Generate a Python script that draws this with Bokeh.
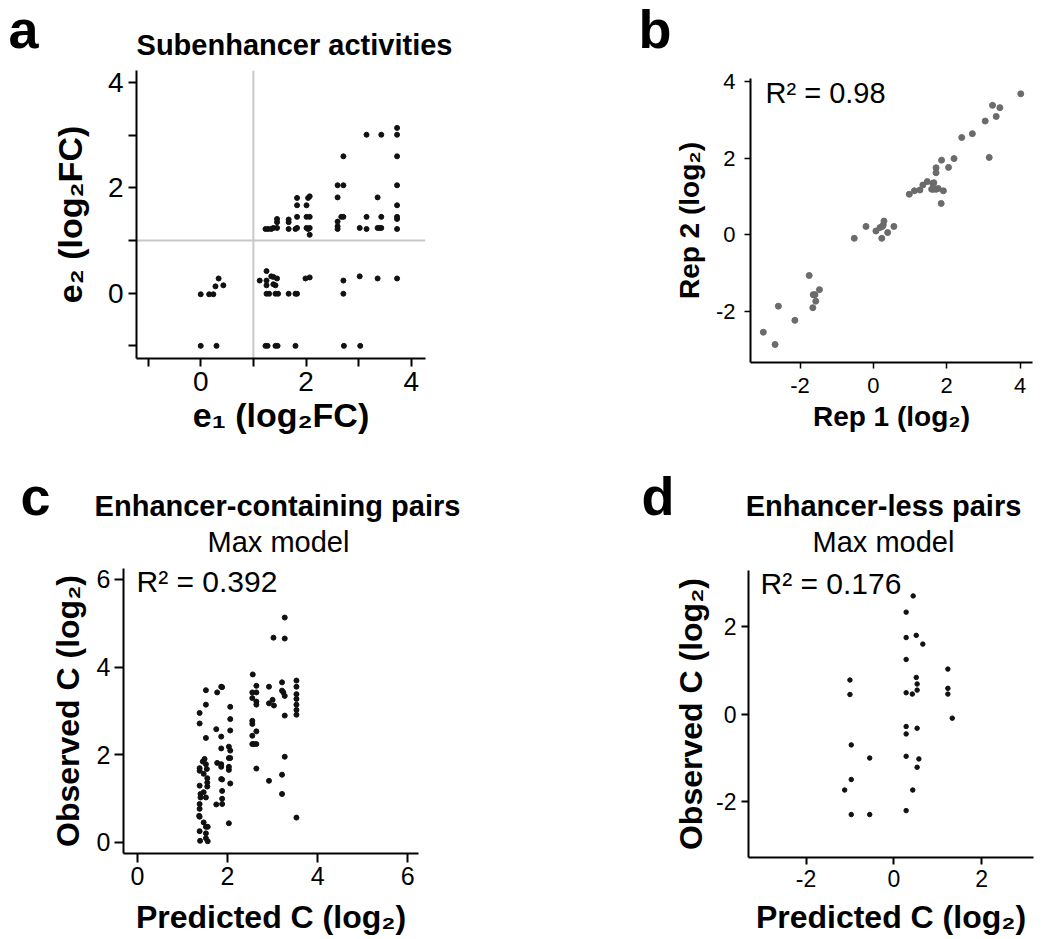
from bokeh.plotting import figure
from bokeh.layouts import column, row
from bokeh.models import Range1d, FixedTicker, Span, Label
from bokeh.core.properties import value
from bokeh.embed import file_html
from bokeh.resources import INLINE

FONT = "Liberation Sans"

# ---------------- data ----------------
# panel a: subenhancer activities (e1, e2 in log2FC)
a_x = [0.00, 0.16, 0.24, 0.28, 0.34, 0.43,
       0.00, 0.30, 1.23, 1.27, 1.42, 1.46, 1.80, 2.72, 3.03,
       1.12, 1.25, 1.25, 1.25, 1.25, 1.30, 1.34, 1.38, 1.38, 1.42, 1.45, 1.42, 1.47,
       1.67, 1.80, 1.83, 1.99, 2.07, 2.71, 2.71, 3.02, 3.36, 3.73,
       1.23, 1.28, 1.34, 1.38, 1.45, 1.45, 1.45,
       1.67, 1.67, 1.67, 1.80, 1.83, 1.83, 1.83, 1.83,
       2.01, 2.04, 2.07, 2.01, 2.07, 2.01, 2.04, 2.07, 2.07,
       2.60, 2.60, 2.60, 2.67, 2.71, 2.60, 2.60, 2.71, 2.71,
       3.02, 3.15, 3.15, 3.15,
       3.36, 3.36, 3.40, 3.43, 3.43, 3.43,
       3.73, 3.73, 3.73, 3.73, 3.73, 3.73, 3.73, 3.73]
a_y = [-0.02, -0.02, -0.02, 0.13, 0.28, 0.15,
       -1.00, -1.00, -1.00, -1.00, -1.00, -1.00, -1.00, -1.00, -1.00,
       0.24, 0.42, 0.24, 0.15, -0.01, -0.01, 0.32, 0.31, 0.17, 0.15, 0.28, -0.01, -0.01,
       -0.01, -0.01, -0.01, 0.28, 0.30, 0.24, -0.01, 0.32, 0.28, 0.28,
       1.22, 1.22, 1.22, 1.24, 1.24, 1.35, 1.41,
       1.22, 1.35, 1.40, 1.22, 1.24, 1.45, 1.67, 1.81,
       1.24, 1.22, 1.24, 1.45, 1.45, 1.67, 1.81, 1.84, 1.11,
       1.22, 1.27, 1.36, 1.45, 1.45, 1.82, 2.05, 2.05, 2.60,
       1.24, 1.22, 1.45, 3.01,
       1.82, 1.24, 1.24, 1.24, 1.45, 3.01,
       3.14, 3.01, 2.60, 2.05, 1.67, 1.45, 1.41, 1.22]

# panel b: replicate agreement
b_x = [-3.00, -2.68, -2.59, -2.14, -1.75, -1.65, -1.64, -1.59, -1.57, -1.47,
       -0.52, -0.20, 0.07, 0.18, 0.23, 0.25, 0.27, 0.29, 0.39, 0.56,
       0.98, 1.12, 1.27, 1.35, 1.47, 1.59, 1.62, 1.65, 1.64, 1.71,
       1.71, 1.71, 1.77, 1.85, 1.86, 1.91, 2.05, 2.20, 2.41, 2.70,
       3.05, 3.16, 3.25, 3.35, 3.45, 4.02]
b_y = [-2.54, -2.86, -1.86, -2.23, -1.06, -1.90, -1.56, -1.56, -1.73, -1.43,
       -0.09, 0.22, 0.10, 0.19, -0.09, 0.22, 0.26, 0.36, 0.06, 0.22,
       1.06, 1.15, 1.17, 1.30, 1.39, 1.19, 1.34, 1.36, 1.19, 1.75,
       1.62, 1.19, 1.21, 0.82, 1.95, 1.15, 1.76, 1.99, 2.54, 2.64,
       2.97, 2.02, 3.38, 3.09, 3.32, 3.68]

# panel c: enhancer-containing pairs, max model
c_x = [1.38, 1.38, 1.52, 1.52, 1.52, 1.49, 1.45, 1.38, 1.38, 1.52, 1.54, 1.47, 1.55, 1.55, 1.55, 1.38,
       1.40, 1.40, 1.47, 1.52, 1.38, 1.38, 1.37, 1.38, 1.47, 1.52, 1.56, 1.38, 1.52, 1.39, 1.52, 1.56,
       1.77, 1.86, 1.88, 1.75, 1.86, 1.86, 1.86, 1.86, 1.77, 1.86, 1.88, 1.88, 1.88, 1.88, 1.75,
       2.06, 2.06, 2.06, 2.03, 2.06, 2.06, 2.03, 2.03, 2.03, 2.06, 2.03,
       2.56, 2.55, 2.64, 2.55, 2.64, 2.64, 2.64, 2.55, 2.55, 2.64, 2.55, 2.55, 2.64, 2.58, 2.64,
       2.92, 2.92, 3.00, 3.03, 2.92, 3.02,
       3.27, 3.27, 3.21, 3.21, 3.24, 3.27, 3.27, 3.27, 3.21, 3.21,
       3.53, 3.53, 3.53, 3.53, 3.53, 3.53, 3.53, 3.53]
c_y = [2.95, 2.71, 3.47, 3.14, 2.38, 1.90, 1.84, 1.69, 1.63, 1.78, 1.67, 1.56, 1.46, 1.36, 1.27, 1.29,
       1.10, 1.02, 1.14, 1.02, 0.87, 0.76, 0.60, 0.58, 0.45, 0.35, 0.35, 0.25, 0.20, 0.03, 0.09, 0.02,
       3.42, 3.55, 3.54, 2.58, 2.41, 2.14, 1.78, 1.72, 1.81, 1.44, 1.43, 1.17, 0.99, 0.87, 0.86,
       3.09, 2.81, 2.55, 2.18, 2.09, 1.92, 1.92, 1.72, 1.65, 1.34, 0.43,
       3.83, 3.42, 3.42, 3.29, 3.57, 3.21, 3.14, 2.77, 2.70, 2.53, 2.43, 2.24, 2.24, 2.24, 1.68,
       3.55, 3.17, 3.25, 3.12, 1.40, 4.67,
       5.13, 4.65, 3.65, 3.46, 3.42, 3.34, 2.89, 1.95, 1.54, 1.10,
       3.69, 3.55, 3.38, 3.27, 3.14, 3.02, 2.91, 0.56]

# panel d: enhancer-less pairs, max model
d_x = [-1.00, -1.00, -0.97, -0.97, -1.12, -0.97, -0.55, -0.55,
       0.44, 0.28, 0.28, 0.51, 0.66, 0.28, 0.51, 0.53, 0.53, 0.28, 0.42,
       0.28, 0.28, 0.53, 0.28, 0.57, 0.53, 0.43, 0.28,
       1.23, 1.23, 1.23, 1.33]
d_y = [0.78, 0.45, -0.70, -1.49, -1.73, -2.29, -1.00, -2.29,
       2.70, 2.33, 1.75, 1.80, 1.60, 1.25, 0.84, 0.69, 0.55, 0.49, 0.46,
       -0.28, -0.45, -0.32, -0.96, -1.02, -1.21, -1.73, -2.20,
       1.03, 0.59, 0.46, -0.09]

a_ticks = [-1, 0, 1, 2, 3, 4]
a_tick_labels = {-1: "", 0: "0", 1: "", 2: "2", 3: "", 4: "4"}
b_ticks = [-2, 0, 2, 4]
b_tick_labels = {-2: "-2", 0: "0", 2: "2", 4: "4"}
c_ticks = [0, 2, 4, 6]
d_ticks = [-2, 0, 2]
d_tick_labels = {-2: "-2", 0: "0", 2: "2"}

panel_letters = ["a", "b", "c", "d"]
panel_titles = ["Subenhancer activities", "", "Enhancer-containing pairs", "Enhancer-less pairs"]
panel_subtitles = ["", "", "Max model", "Max model"]
r2_texts = ["", "R² = 0.98", "R² = 0.392", "R² = 0.176"]

W = 1048
ROW1 = 458          # height of the top row (a, b)
BASE_SHIFT = 0.36   # empirical correction of the rendered text baseline (in em)


# ---------------- helpers ----------------
def make_header(origin, w, h):
    ox, oy = origin
    p = figure(width=w, height=h, output_backend="svg", toolbar_location=None,
               x_range=Range1d(ox, ox + w), y_range=Range1d(oy + h, oy),
               x_axis_location=None, y_axis_location=None, min_border=0,
               frame_align=False)
    p.outline_line_color = None
    p.grid.visible = False
    p.background_fill_color = "white"
    p.border_fill_color = "white"
    return p


def header_text(p, x, y, txt, size, bold=False, align="left"):
    p.text(x=[x], y=[y - BASE_SHIFT * size], text=[txt], text_font=value(FONT),
           text_font_size=value(f"{size}px"),
           text_font_style="bold" if bold else "normal",
           text_color="black", text_align=align, text_baseline="alphabetic")


def make_fig(w, h, origin, frame, xr, yr):
    """frame given in page pixels (L, T, R, B); origin = figure top-left."""
    ox, oy = origin
    L, T, R, B = frame
    p = figure(width=w, height=h, output_backend="svg", toolbar_location=None,
               x_range=Range1d(*xr), y_range=Range1d(*yr),
               min_border_left=L - ox, min_border_top=T - oy,
               min_border_right=ox + w - R, min_border_bottom=oy + h - B,
               frame_align=False)
    p.outline_line_color = None
    p.grid.visible = False
    p.background_fill_color = "white"
    p.border_fill_color = "white"

    def to_data(px, py):
        x = xr[0] + (px - L) / (R - L) * (xr[1] - xr[0])
        y = yr[1] - (py - T) / (B - T) * (yr[1] - yr[0])
        return x, y
    return p, to_data


def style_axes(p, tick_len, tick_w, tick_fs, tick_standoff, label_fs, xstand, ystand):
    for ax in (p.xaxis[0], p.yaxis[0]):
        ax.axis_line_width = 2
        ax.axis_line_color = "black"
        ax.major_tick_line_width = tick_w
        ax.major_tick_line_color = "black"
        ax.major_tick_out = tick_len
        ax.major_tick_in = 0
        ax.minor_tick_line_color = None
        ax.major_label_text_font = FONT
        ax.major_label_text_font_size = f"{tick_fs}px"
        ax.major_label_text_color = "black"
        ax.major_label_standoff = tick_standoff
        ax.axis_label_text_font = FONT
        ax.axis_label_text_font_style = "bold"
        ax.axis_label_text_font_size = f"{label_fs}px"
        ax.axis_label_text_color = "black"
    p.xaxis[0].axis_label_standoff = xstand
    p.yaxis[0].axis_label_standoff = ystand


def add_inside(p, to_data, px, py, txt, size):
    x, y = to_data(px, py - BASE_SHIFT * size)
    p.add_layout(Label(x=x, y=y, text=txt, text_font=FONT,
                       text_font_size=f"{size}px", text_color="black",
                       text_align="left", text_baseline="alphabetic"))


# ---------------- panel a ----------------
ha = make_header((0, 0), 520, 62)
header_text(ha, 8, 48, panel_letters[0], 54, bold=True)
header_text(ha, 294, 55, panel_titles[0], 29, bold=True, align="center")

pa, ta = make_fig(520, ROW1 - 62, (0, 62), (136, 70, 425, 358), (-1.22, 4.27), (-1.24, 4.23))
pa.add_layout(Span(location=1, dimension="height", line_color="#c8c8c8", line_width=2, level="underlay"))
pa.add_layout(Span(location=1, dimension="width", line_color="#c8c8c8", line_width=2, level="underlay"))
pa.scatter(a_x, a_y, size=5, color="#111111")
pa.xaxis.ticker = FixedTicker(ticks=a_ticks)
pa.yaxis.ticker = FixedTicker(ticks=a_ticks)
pa.xaxis.major_label_overrides = a_tick_labels
pa.yaxis.major_label_overrides = a_tick_labels
pa.xaxis.axis_label = "e₁ (log₂FC)"
pa.yaxis.axis_label = "e₂ (log₂FC)"
style_axes(pa, 8, 2, 28, 5, 34, 2, 16)

# ---------------- panel b ----------------
hb = make_header((520, 0), W - 520, 62)
header_text(hb, 638, 48, panel_letters[1], 54, bold=True)

pb, tb = make_fig(W - 520, ROW1 - 62, (520, 62), (750, 78, 1032, 362), (-3.35, 4.34), (-3.33, 4.08))
pb.scatter(b_x, b_y, size=6, color="#6b6b6b")
pb.xaxis.ticker = FixedTicker(ticks=b_ticks)
pb.yaxis.ticker = FixedTicker(ticks=b_ticks)
pb.xaxis.major_label_overrides = b_tick_labels
pb.yaxis.major_label_overrides = b_tick_labels
pb.xaxis.axis_label = "Rep 1 (log₂)"
pb.yaxis.axis_label = "Rep 2 (log₂)"
style_axes(pb, 6, 1.5, 22, 9, 28, 5, 8)
add_inside(pb, tb, 765, 103, r2_texts[1], 29)

# ---------------- panel c ----------------
hc = make_header((0, ROW1), 560, 562 - ROW1)
header_text(hc, 20, 515, panel_letters[2], 54, bold=True)
header_text(hc, 277, 516, panel_titles[2], 29, bold=True, align="center")
header_text(hc, 278, 552, panel_subtitles[2], 29, align="center")

pc, tc = make_fig(560, 375, (0, 562), (123, 568, 418, 853), (-0.31, 6.24), (-0.26, 6.25))
pc.scatter(c_x, c_y, size=5, color="#111111")
pc.xaxis.ticker = FixedTicker(ticks=c_ticks)
pc.yaxis.ticker = FixedTicker(ticks=c_ticks)
pc.xaxis.axis_label = "Predicted C (log₂)"
pc.yaxis.axis_label = "Observed C (log₂)"
style_axes(pc, 9, 2, 25, 4, 32, 11, 8)
add_inside(pc, tc, 136, 592, r2_texts[2], 30)

# ---------------- panel d ----------------
hd = make_header((560, ROW1), W - 560, 562 - ROW1)
header_text(hd, 641, 515, panel_letters[3], 54, bold=True)
header_text(hd, 883, 516, panel_titles[3], 29, bold=True, align="center")
header_text(hd, 883, 552, panel_subtitles[3], 29, align="center")

pd_, td = make_fig(W - 560, 375, (560, 562), (748, 570, 1033, 858), (-3.31, 3.18), (-3.27, 3.28))
pd_.scatter(d_x, d_y, size=4.5, color="#111111")
pd_.xaxis.ticker = FixedTicker(ticks=d_ticks)
pd_.yaxis.ticker = FixedTicker(ticks=d_ticks)
pd_.xaxis.major_label_overrides = d_tick_labels
pd_.yaxis.major_label_overrides = d_tick_labels
pd_.xaxis.axis_label = "Predicted C (log₂)"
pd_.yaxis.axis_label = "Observed C (log₂)"
style_axes(pd_, 7, 2, 23, 5, 32, 9, 4)
add_inside(pd_, td, 760, 594, r2_texts[3], 30)

layout = column(row(column(ha, pa), column(hb, pb)),
                row(column(hc, pc), column(hd, pd_)))
open("out.html", "w").write(file_html(layout, INLINE))
